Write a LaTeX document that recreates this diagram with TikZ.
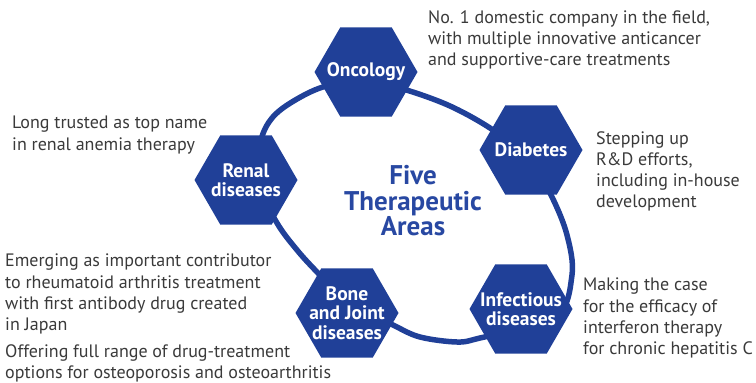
\documentclass[tikz,border=0pt]{standalone}
\usepackage{fontspec}
\setmainfont{PT Sans}
\usetikzlibrary{shapes.geometric}
\definecolor{hexblue}{RGB}{32,64,152}
\definecolor{ctrblue}{RGB}{40,72,162}
\definecolor{txtgray}{RGB}{58,58,58}
\begin{document}
\begin{tikzpicture}[x=1pt,y=-1pt,
  hex/.style={regular polygon, regular polygon sides=6, minimum size=103pt, inner sep=0pt, fill=hexblue, draw=none},
  hexlabel/.style={text=white, font=\fontsize{19.5}{19.5}\selectfont\bfseries, align=center, inner sep=0pt},
  note/.style={text=txtgray, font=\fontsize{18}{21.3}\selectfont, align=left, anchor=north west, inner sep=0pt},
  ring/.style={draw=hexblue, line width=5.5pt}]
\useasboundingbox (0,0) rectangle (756,383);
\draw[ring] plot[smooth cycle, tension=0.55] coordinates {
  (261,140) (272,118) (292,102) (323,87) (363,81) (403,89) (450,106) (493,130)
  (530,160) (552,197) (567,235) (572,275) (555,318) (480,338) (457,342) (420,337)
  (393,325) (345,300) (317,272) (297,250) (277,223) (256,180)};
\node[hex] (onc) at (366,72) {};
\node[hex] (ren) at (246,180) {};
\node[hex] (dia) at (531,150) {};
\node[hex] (bon) at (347,313) {};
\node[hex] (inf) at (521,309) {};
\node[hexlabel] (oncl) at (onc) {Oncology};
\node[hexlabel] (renl) at (ren) {Renal\\diseases};
\node[hexlabel] (dial) at (dia) {Diabetes};
\node[hexlabel] (bonl) at (bon) {Bone\\and Joint\\diseases};
\node[hexlabel] (infl) at (inf) {Infectious\\diseases};
\node[text=ctrblue, font=\fontsize{27}{25.5}\selectfont\bfseries, align=center, inner sep=0pt] (ctr) at (413,201) {Five\\Therapeutic\\Areas};
\node[note] (n1) at (428,10) {No. 1 domestic company in the field,\\with multiple innovative anticancer\\and supportive-care treatments};
\node[note] (n2) at (12,116) {Long trusted as top name\\in renal anemia therapy};
\node[note] (n3) at (596,131) {Stepping up\\R\&D efforts,\\including in-house\\development};
\node[note] (n4) at (5,254) {Emerging as important contributor\\to rheumatoid arthritis treatment\\with first antibody drug created\\in Japan};
\node[note] (n5) at (5,344) {Offering full range of drug-treatment\\options for osteoporosis and osteoarthritis};
\node[note] (n6) at (583,278) {Making the case\\for the efficacy of\\interferon therapy\\for chronic hepatitis C};
\end{tikzpicture}
\end{document}
